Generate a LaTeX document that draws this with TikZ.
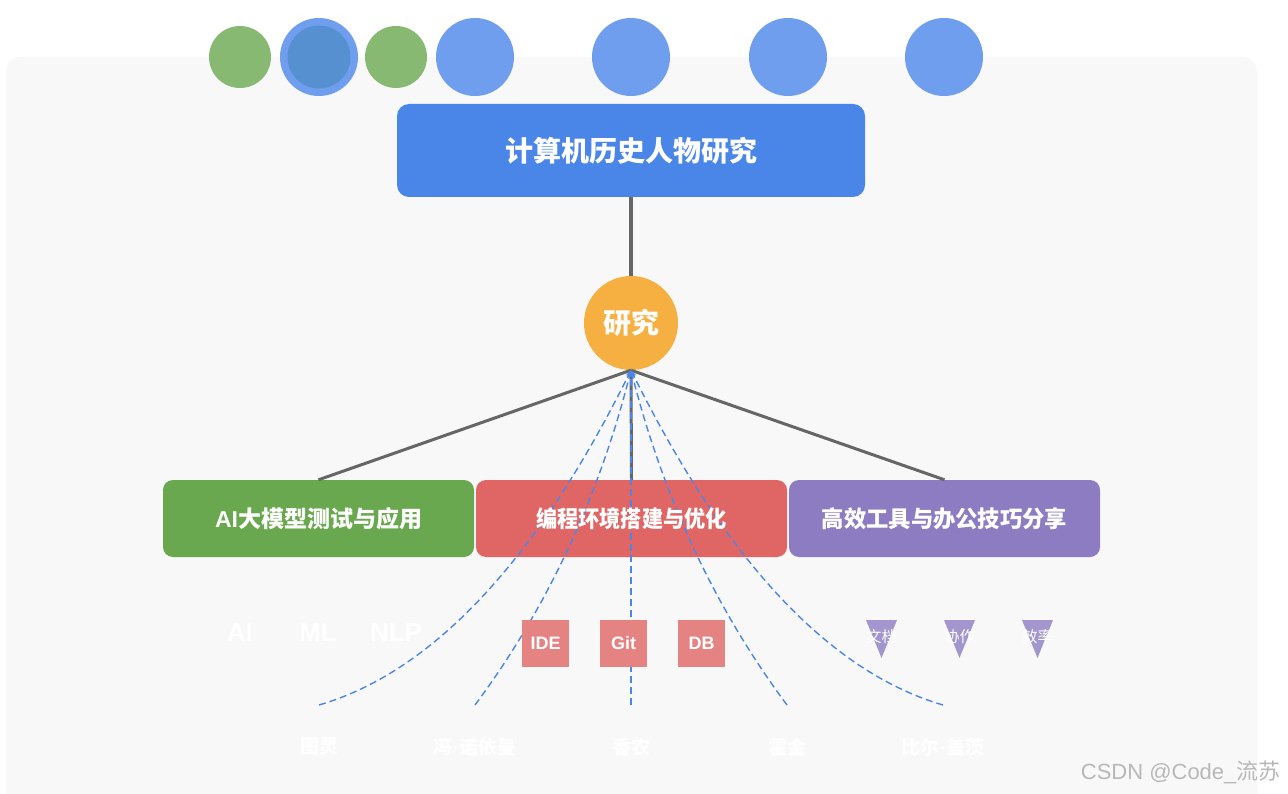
\documentclass[tikz,border=0pt]{standalone}
\usepackage{fontspec}
\setmainfont{Liberation Sans}
\newfontfamily\cjk{Noto Sans CJK SC}
\newfontfamily\latinf{Liberation Sans}
\usetikzlibrary{arrows.meta}
\definecolor{panel}{HTML}{F8F8F8}
\definecolor{titleblue}{HTML}{4A86E8}
\definecolor{lightblue}{HTML}{6E9EED}
\definecolor{innerblue}{HTML}{5690D0}
\definecolor{lightgreen}{HTML}{88B972}
\definecolor{orangec}{HTML}{F6B042}
\definecolor{greenbox}{HTML}{6AA84F}
\definecolor{redbox}{HTML}{E06666}
\definecolor{purplebox}{HTML}{8E7CC3}
\definecolor{lightred}{HTML}{E58383}
\definecolor{lightpurple}{HTML}{A395CD}
\definecolor{linegray}{HTML}{666666}
\definecolor{dashblue}{HTML}{4A86E8}
\definecolor{wmgray}{HTML}{B8B8B8}
\tikzset{
  catbox/.style={rounded corners=10pt, minimum width=311pt, minimum height=77pt, inner sep=0pt},
  cattext/.style={text=white, font=\fontsize{23}{24}\selectfont\bfseries},
  conn/.style={draw=linegray, line width=3pt},
  link/.style={draw=dashblue, line width=1.4pt, dash pattern=on 7pt off 4pt, -{Stealth[length=7pt,width=5pt]}},
  leafsq/.style={fill=lightred, minimum size=47pt, inner sep=0pt, text=white, font=\fontsize{18}{18}\selectfont\bfseries},
  leaftext/.style={text=white, font=\fontsize{26}{26}\selectfont\bfseries},
  person/.style={text=white, font=\fontsize{19}{19}\selectfont\bfseries\cjk},
  tritext/.style={text=white, font=\fontsize{15.5}{16}\selectfont\cjk},
  topc/.style={circle, inner sep=0pt},
}
\begin{document}
\begin{tikzpicture}[x=1pt,y=-1pt]
\useasboundingbox (0,0) rectangle (1288,794);
\clip (0,0) rectangle (1288,794);
\fill[white] (0,0) rectangle (1288,794);
% panel
\fill[panel, rounded corners=15pt] (6,57) rectangle (1257,830);
% top circles
\node[topc, fill=lightgreen, minimum size=62pt] (c1) at (240,57) {};
\node[topc, fill=lightblue, minimum size=78pt] (c2) at (319,57) {};
\node[topc, fill=innerblue, minimum size=63pt] (c2i) at (319,57) {};
\node[topc, fill=lightgreen, minimum size=62pt] (c3) at (396,57) {};
\node[topc, fill=lightblue, minimum size=78pt] (c4) at (475,57) {};
\node[topc, fill=lightblue, minimum size=78pt] (c5) at (631,57) {};
\node[topc, fill=lightblue, minimum size=78pt] (c6) at (788,57) {};
\node[topc, fill=lightblue, minimum size=78pt] (c7) at (944,57) {};
% title
\node[fill=titleblue, rounded corners=12pt, minimum width=468pt, minimum height=93pt, inner sep=0pt,
      text=white, font=\fontsize{28}{30}\selectfont\bfseries\cjk] (T) at (631,150.5) {计算机历史人物研究};
% center circle
\node[circle, fill=orangec, minimum size=94pt, inner sep=0pt, text=white,
      font=\fontsize{28}{30}\selectfont\bfseries\cjk] (R) at (631,323) {研究};
% category boxes
\node[catbox, fill=greenbox] (B1) at (318.5,518.5) {};
\node[catbox, fill=redbox] (B2) at (631.5,518.5) {};
\node[catbox, fill=purplebox] (B3) at (944.5,518.5) {};
% connectors
\draw[draw=linegray, line width=4pt] (T.south) -- (R.north);
\draw[conn] (R.south) -- (B1.north);
\draw[conn] (R.south) -- (B2.north);
\draw[conn] (R.south) -- (B3.north);
% people anchors
\coordinate (p1) at (319,705);
\coordinate (p2) at (475,705);
\coordinate (p3) at (631,705);
\coordinate (p4) at (787,705);
\coordinate (p5) at (943,705);
\draw[link] (p1) .. controls (433,671.7) and (537,560) .. (R.south);
\draw[link] (p2) .. controls (547,608.3) and (599,496.7) .. (R.south);
\draw[link] (p3) -- (R.south);
\draw[link] (p4) .. controls (715,608.3) and (663,496.7) .. (R.south);
\draw[link] (p5) .. controls (829,671.7) and (725,560) .. (R.south);
% category texts
\node[cattext] (B1t) at (B1) {AI{\cjk 大模型测试与应用}};
\node[cattext, xscale=0.92] (B2t) at (B2) {\cjk 编程环境搭建与优化};
\node[cattext, xscale=0.97] (B3t) at (B3) {\cjk 高效工具与办公技巧分享};
% leaves AI
\node[leaftext] (l1) at (240,633) {AI};
\node[leaftext] (l2) at (318,633) {ML};
\node[leaftext] (l3) at (396,633) {NLP};
% leaves programming
\node[leafsq] (s1) at (545.5,643.5) {IDE};
\node[leafsq] (s2) at (623.5,643.5) {Git};
\node[leafsq] (s3) at (701.5,643.5) {DB};
% leaves tools
\fill[lightpurple] (866,620) -- (897,620) -- (881.5,658) -- cycle;
\fill[lightpurple] (944,620) -- (975,620) -- (959.5,658) -- cycle;
\fill[lightpurple] (1022,620) -- (1053,620) -- (1037.5,658) -- cycle;
\node[tritext] (t1) at (881.5,637) {文档};
\node[tritext] (t2) at (959.5,637) {协作};
\node[tritext] (t3) at (1037.5,637) {效率};
% people labels
\node[person] (n1) at (319,747) {图灵};
\node[person] (n2) at (475,747) {冯{\latinf ·}诺依曼};
\node[person] (n3) at (631,747) {香农};
\node[person] (n4) at (787,747) {霍金};
\node[person] (n5) at (943,747) {比尔{\latinf ·}盖茨};
% watermark
\node[text=wmgray, font=\fontsize{22}{22}\selectfont, anchor=east] (wm) at (1284,772) {CSDN @Code\_{\cjk 流苏}};
\end{tikzpicture}
\end{document}
